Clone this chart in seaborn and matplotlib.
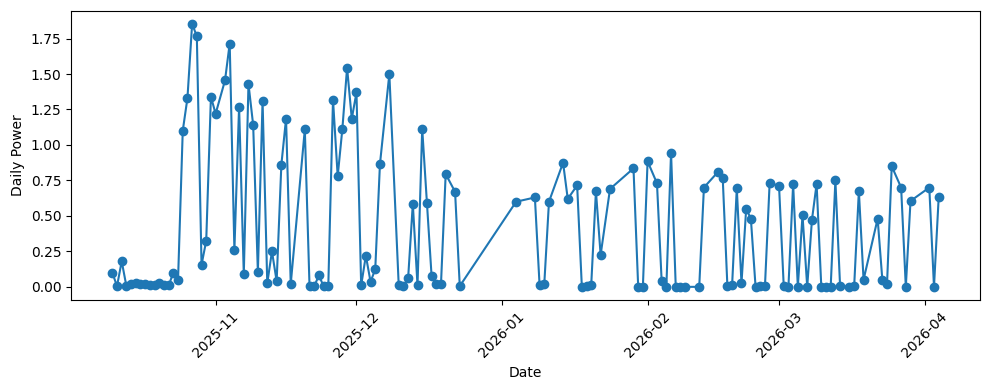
import matplotlib
matplotlib.use("Agg")
import matplotlib.pyplot as plt
import seaborn as sns
import pandas as pd

dates = [
    "2025-10-10", "2025-10-11", "2025-10-12", "2025-10-13", "2025-10-14", "2025-10-15",
    "2025-10-16", "2025-10-17", "2025-10-18", "2025-10-19", "2025-10-20", "2025-10-21",
    "2025-10-22", "2025-10-23", "2025-10-24", "2025-10-25", "2025-10-26", "2025-10-27",
    "2025-10-28", "2025-10-29", "2025-10-30", "2025-10-31", "2025-11-01",
    "2025-11-03", "2025-11-04", "2025-11-05", "2025-11-06", "2025-11-07", "2025-11-08",
    "2025-11-09", "2025-11-10", "2025-11-11", "2025-11-12", "2025-11-13", "2025-11-14",
    "2025-11-15", "2025-11-16", "2025-11-17",
    "2025-11-20", "2025-11-21", "2025-11-22", "2025-11-23", "2025-11-24", "2025-11-25",
    "2025-11-26", "2025-11-27", "2025-11-28", "2025-11-29", "2025-11-30", "2025-12-01",
    "2025-12-02", "2025-12-03", "2025-12-04", "2025-12-05", "2025-12-06",
    "2025-12-08",
    "2025-12-10", "2025-12-11", "2025-12-12", "2025-12-13", "2025-12-14", "2025-12-15",
    "2025-12-16", "2025-12-17", "2025-12-18", "2025-12-19", "2025-12-20",
    "2025-12-22", "2025-12-23",
    "2026-01-04", "2026-01-08", "2026-01-09", "2026-01-10", "2026-01-11",
    "2026-01-14", "2026-01-15", "2026-01-17", "2026-01-18", "2026-01-19", "2026-01-20",
    "2026-01-21", "2026-01-22", "2026-01-24", "2026-01-29", "2026-01-30", "2026-01-31",
    "2026-02-01", "2026-02-03", "2026-02-04", "2026-02-05", "2026-02-06", "2026-02-07",
    "2026-02-08", "2026-02-09", "2026-02-12", "2026-02-13", "2026-02-16", "2026-02-17",
    "2026-02-18", "2026-02-19", "2026-02-20", "2026-02-21", "2026-02-22", "2026-02-23",
    "2026-02-24", "2026-02-25", "2026-02-26", "2026-02-27",
    "2026-03-01", "2026-03-02", "2026-03-03", "2026-03-04", "2026-03-05", "2026-03-06",
    "2026-03-07", "2026-03-08", "2026-03-09", "2026-03-10", "2026-03-11", "2026-03-12",
    "2026-03-13", "2026-03-14", "2026-03-16", "2026-03-17", "2026-03-18", "2026-03-19",
    "2026-03-22", "2026-03-23", "2026-03-24", "2026-03-25", "2026-03-27", "2026-03-28",
    "2026-03-29", "2026-04-02", "2026-04-03", "2026-04-04",
]

daily_power = [
    0.10, 0.005, 0.18, 0.005, 0.02, 0.03,
    0.02, 0.02, 0.01, 0.01, 0.03, 0.01,
    0.01, 0.10, 0.05, 1.10, 1.33, 1.855,
    1.765, 0.155, 0.325, 1.34, 1.22,
    1.455, 1.715, 0.26, 1.27, 0.09, 1.43,
    1.14, 0.105, 1.31, 0.025, 0.25, 0.04,
    0.86, 1.185, 0.02,
    1.11, 0.005, 0.005, 0.08, 0.005, 0.005,
    1.32, 0.78, 1.115, 1.545, 1.185, 1.37,
    0.01, 0.22, 0.035, 0.125, 0.865,
    1.50,
    0.01, 0.005, 0.06, 0.585, 0.01, 1.115,
    0.59, 0.075, 0.02, 0.02, 0.795,
    0.67, 0.005,
    0.60, 0.63, 0.01, 0.02, 0.60,
    0.875, 0.62, 0.715, 0.0, 0.005, 0.015,
    0.675, 0.225, 0.69, 0.835, 0.0, 0.0,
    0.885, 0.73, 0.04, 0.0, 0.945, 0.0,
    0.0, 0.0, 0.0, 0.70, 0.81, 0.77,
    0.005, 0.01, 0.695, 0.025, 0.55, 0.48,
    0.0, 0.005, 0.005, 0.735,
    0.71, 0.005, 0.0, 0.725, 0.0, 0.505,
    0.0, 0.47, 0.725, 0.0, 0.0, 0.0,
    0.75, 0.005, 0.0, 0.005, 0.675, 0.05,
    0.48, 0.05, 0.02, 0.85, 0.70, 0.0,
    0.605, 0.70, 0.0, 0.63,
]

df = pd.DataFrame({"Date": pd.to_datetime(dates), "Daily Power": daily_power})

fig, ax = plt.subplots(figsize=(9.89, 3.9), dpi=100)
sns.lineplot(data=df, x="Date", y="Daily Power", ax=ax, color="#1f77b4",
             marker="o", markersize=6, markeredgecolor="#1f77b4",
             markeredgewidth=1, linewidth=1.5)
plt.xticks(rotation=45)
fig.subplots_adjust(left=71 / 989, right=980 / 989,
                    bottom=(390 - 300) / 390, top=(390 - 10.5) / 390)
fig.savefig("out.png", dpi=100)
